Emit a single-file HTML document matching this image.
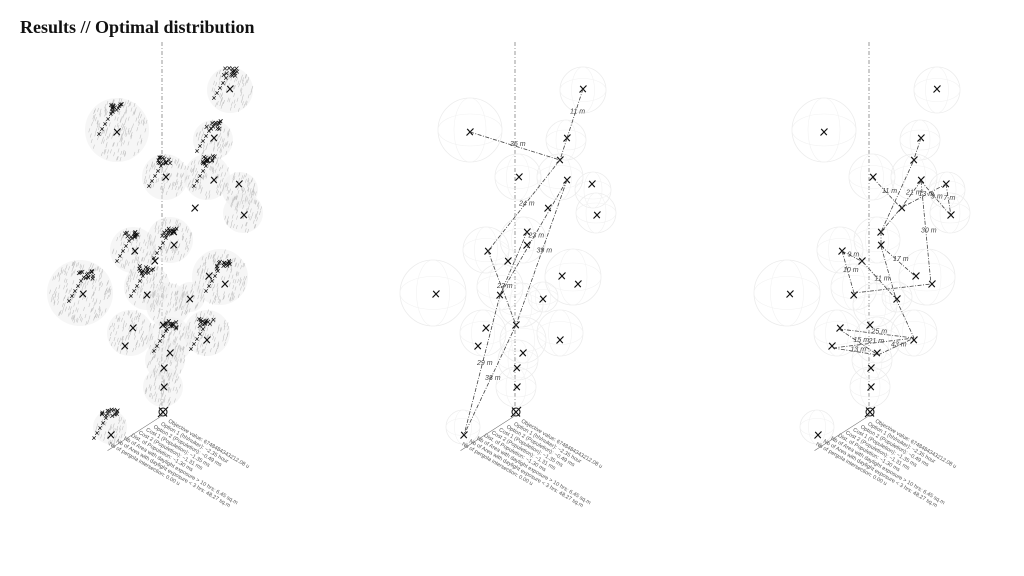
<!DOCTYPE html>
<html><head><meta charset="utf-8">
<style>
html,body{margin:0;padding:0;background:#fff;width:1024px;height:576px;overflow:hidden}
svg{position:absolute;left:0;top:0}
.t{font-family:"Liberation Serif",serif;font-weight:bold;font-size:18px;fill:#111}
.s{font-family:"Liberation Sans",sans-serif;font-size:5.5px;fill:#555}
.l{font-family:"Liberation Sans",sans-serif;font-size:7px;font-style:italic;fill:#444}
</style></head><body>
<svg id="g" width="1024" height="576" viewBox="0 0 1024 576" xmlns="http://www.w3.org/2000/svg">
<text x="20" y="33" class="t">Results // Optimal distribution</text>
</svg>
<script>
var NS="http://www.w3.org/2000/svg",g=document.getElementById('g');
function el(n,a,p){var e=document.createElementNS(NS,n);for(var k in a)e.setAttribute(k,a[k]);(p||g).appendChild(e);return e;}
var C=[[230,90,23],[117,130,32],[165,177,23],[213,140,20],[240,190,18],[243,213,20],[207,177,23],[133,250,23],[170,240,23],[80,293,33],[147,287,23],[220,277,28],[190,297,15],[130,333,23],[170,340,23],[207,333,23],[163,387,20],[110,427,17],[168,305,22],[165,360,20]];
var X=[[583,89],[470,132],[567,138],[560,160],[519,177],[567,180],[592,184],[548,208],[597,215],[527,232],[527,245],[488,251],[508,261],[436,294],[562,276],[578,284],[500,295],[543,299],[516,325],[486,328],[478,346],[560,340],[523,353],[517,368],[517,387],[464,435]];
var seed=7;function r(){seed=(seed*16807)%2147483647;return seed/2147483647;}
function xm(x,y,s,w){el('path',{d:'M'+(x-s)+' '+(y+s)+'L'+(x+s)+' '+(y-s)+'M'+(x-s*0.8)+' '+(y-s*0.9)+'L'+(x+s*0.8)+' '+(y+s*0.9),stroke:'#111','stroke-width':w,fill:'none'});}
var offs=[-353,0,354];
offs.forEach(function(o,pi){
  el('line',{x1:162+o+353,y1:42,x2:162+o+353,y2:415,stroke:'#999','stroke-dasharray':'4 2 1 2','stroke-width':1});
  C.forEach(function(c){
    var cx=c[0]+o+353,cy=c[1],R=c[2];
    if(pi==0){
      el('circle',{cx:cx,cy:cy,r:R,fill:'#eeeeee','fill-opacity':0.5,stroke:'none'});
      var d='';for(var i=0;i<R*R/6;i++){var a=r()*6.28,q=Math.sqrt(r())*R*0.95,x=cx+Math.cos(a)*q,y=cy+Math.sin(a)*q;d+='M'+x.toFixed(1)+' '+(y+2).toFixed(1)+'l1.2 -4';}
      el('path',{d:d,stroke:'#c4c4c4','stroke-width':0.6,fill:'none'});
    }else{
      el('circle',{cx:cx,cy:cy,r:R,fill:'none',stroke:'#ececec','stroke-width':0.8});
      el('ellipse',{cx:cx,cy:cy,rx:R*0.5,ry:R,fill:'none',stroke:'#f2f2f2','stroke-width':0.6});
      el('ellipse',{cx:cx,cy:cy,rx:R,ry:R*0.5,fill:'none',stroke:'#f2f2f2','stroke-width':0.6});
    }
  });
  X.forEach(function(p){xm(p[0]+o,p[1],3.5,1.2);});
  var bx=516+o;el('circle',{cx:bx,cy:412,r:4,fill:'none',stroke:'#111','stroke-width':1});xm(bx,412,5,1.2);
  var tg=el('g',{transform:'translate('+(bx-2)+',418) rotate(30)'});
  var L=['Objective value: 6748484343212.08 u','Option 1 (hh/nuker): ~2.35 hour','Option 2 (Populetion): ~0.49 ms','Cost 1 (Populetion): ~1.35 ms','Cost 2 (Populetion): ~1.31 ms','Dist. of Populetion: ~1.30 ms','Nb of Area with daylight exposure > 10 hrs: 6.45 sq.m','Nb of Area with daylight exposure < 3 hrs: 48.27 sq.m','Nb of pergola intersection: 0.00 u'];
  L.forEach(function(s,i){var t=el('text',{x:8-i*5,y:i*6.2,'class':'s'},tg);t.textContent=s;});
  el('path',{d:'M0 -3 L-30 55',stroke:'#666','stroke-width':0.5},tg);
});
var left=[[230,72],[115,108],[165,160],[213,125],[210,160],[133,235],[170,232],[85,275],[147,270],[222,265],[170,325],[207,323],[110,412]];
left.forEach(function(c){
  for(var i=0;i<14;i++){var x=c[0]+(r()-0.5)*16,y=c[1]+(r()-0.5)*8;xm(x,y,2,0.7);}
  for(var j=0;j<5;j++){xm(c[0]-4-j*3,c[1]+6+j*5,1.8,0.7);}
});
function ed(list){list.forEach(function(e){el('line',{x1:e[0],y1:e[1],x2:e[2],y2:e[3],stroke:'#444','stroke-width':0.8,'stroke-dasharray':'4 1.5 1 1.5'});
 if(e[4]){var mx=(e[0]+e[2])/2,my=(e[1]+e[3])/2,t=el('text',{x:mx-5,y:my,'class':'l'});t.textContent=e[4];}});}
ed([[583,89,567,138,'11 m'],[567,138,560,160,''],[470,132,560,160,'36 m'],[560,160,488,251,'24 m'],[567,180,500,295,'23 m'],[567,180,516,325,'39 m'],[488,251,516,325,'22 m'],[500,295,464,435,'29 m'],[516,325,464,435,'38 m'],[527,232,500,295,'']]);
ed([[921,138,913,162,''],[913,162,881,232,''],[921,181,931,284,'30 m'],[873,178,901,208,'11 m'],[921,181,901,208,'21 m'],[901,208,946,184,'13 m'],[946,184,951,216,'7 m'],[921,181,951,216,'9 m'],[881,232,881,246,''],[881,246,896,299,''],[881,246,915,276,'17 m'],[842,251,863,262,'9 m'],[842,251,854,293,'10 m'],[863,262,896,299,'11 m'],[854,293,931,284,''],[896,299,914,338,''],[839,329,914,338,'25 m'],[833,348,914,338,'21 m'],[839,329,878,355,'15 m'],[833,348,878,355,'13 m'],[878,355,914,338,'43 m'],[881,232,901,208,'']]);
</script>
</body></html>
